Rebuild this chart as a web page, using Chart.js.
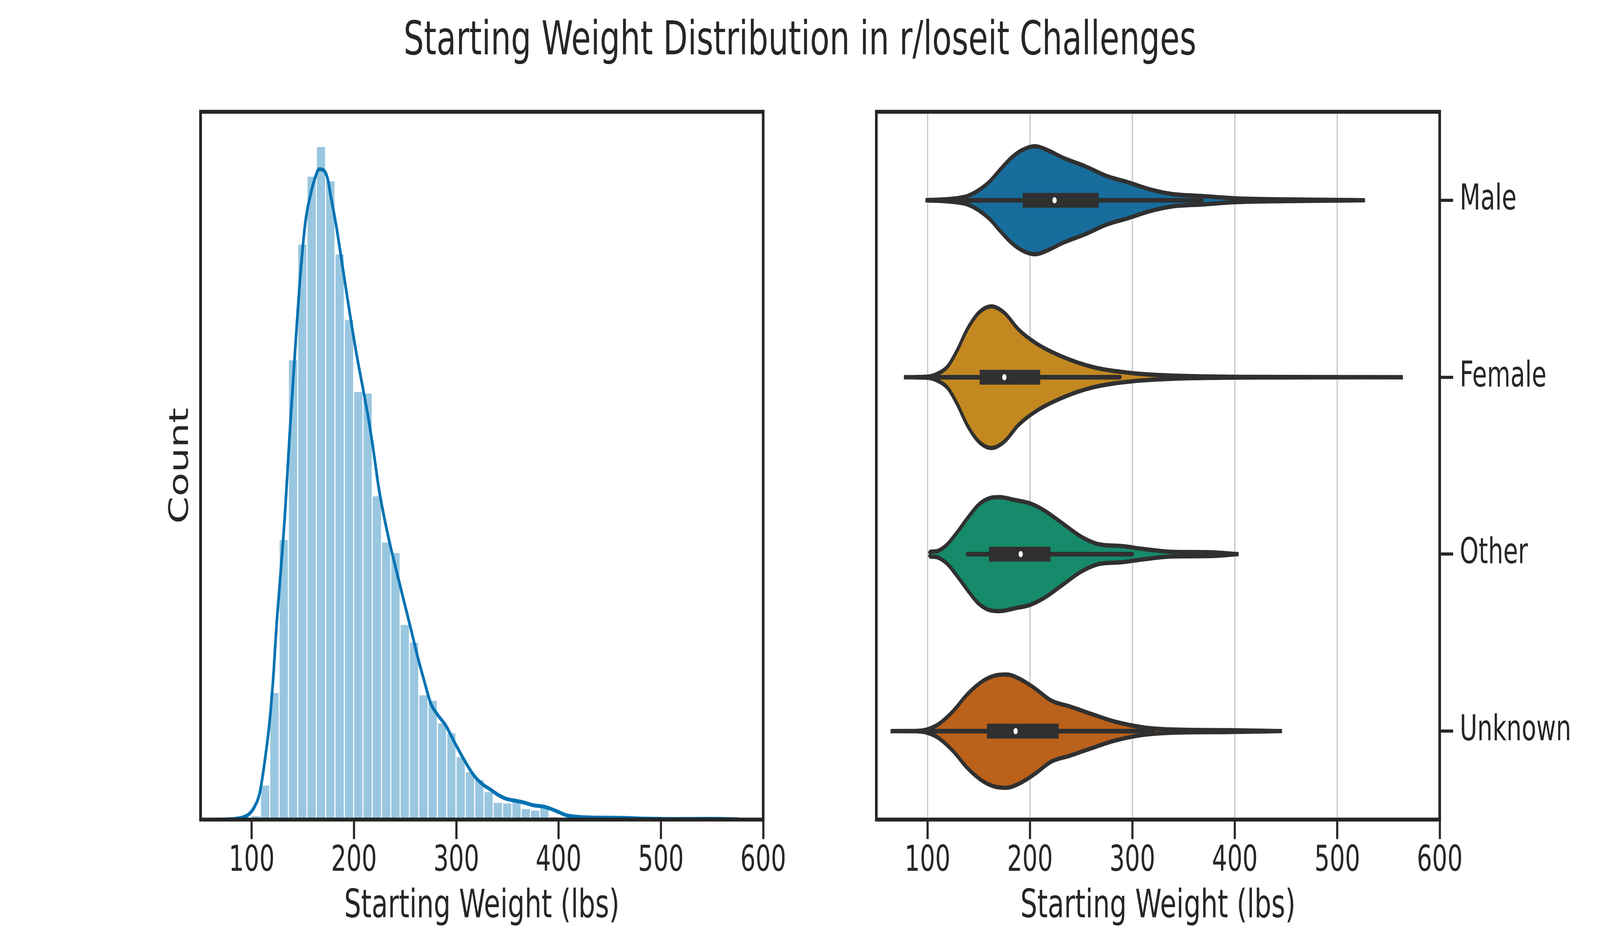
<!doctype html>
<html>

<head>
    <meta charset="utf-8">
    <title>Starting Weight Distribution</title>
    <script src="https://cdn.jsdelivr.net/npm/chart.js@4.4.1/dist/chart.umd.min.js"></script>
    <style>
        html, body {
            margin: 0;
            background: #fff;
            overflow: hidden;
        }

        #page {
            position: relative;
            width: 6000px;
            height: 2400px;
            font-family: "DejaVu Sans";
            color: #262626;
            transform-origin: 0 0;
        }

        #title {
            position: absolute;
            left: 0;
            top: 38px;
            width: 6000px;
            text-align: center;
            font-size: 120px;
            line-height: 120px;
        }

        canvas {
            position: absolute;
        }

        #hist-area {
            left: 500px;
            top: 200px;
        }

        #violin-area {
            left: 3100px;
            top: 200px;
        }
    </style>
</head>

<body>

<div id="page">
    <div id="title">Starting Weight Distribution in r/loseit Challenges</div>
    <canvas id="hist-area" width="2500" height="2200"></canvas>
    <canvas id="violin-area" width="2900" height="2200"></canvas>
</div>

<script>
    // x axis ticks, shared by both panels
    var tickValues = [100, 200, 300, 400, 500, 600];

    // histogram (50 bins), heights (no y scale shown)
    var binCenters = [104.05, 113.15, 122.25, 131.35, 140.45, 149.55, 158.65, 167.75, 176.85, 185.95,
        195.05, 204.15, 213.25, 222.35, 231.45, 240.55, 249.65, 258.75, 267.85, 276.95,
        286.05, 295.15, 304.25, 313.35, 322.45, 331.55, 340.65, 349.75, 358.85, 367.95,
        377.05, 386.15, 395.25, 404.35, 413.45, 422.55, 431.65, 440.75, 449.85, 458.95,
        468.05, 477.15, 486.25, 495.35, 504.45, 513.55, 522.65, 531.75, 540.85, 549.95];
    var binHeights = [1.1, 8.9, 32.6, 71.7, 117.7, 147.3, 164.7, 172.3, 163.5, 144.8,
        128.0, 109.6, 109.2, 82.9, 71.1, 68.4, 50.0, 45.5, 32.0, 30.6,
        24.8, 22.3, 16.2, 12.3, 10.3, 7.2, 4.5, 4.3, 4.9, 2.9,
        2.5, 3.7, 0.8, 0.3, 0.2, 0.3, 0.2, 0.1, 0.2, 0.1,
        0.1, 0.1, 0, 0.1, 0, 0, 0.1, 0, 0, 0.1];

    // kde curve over the histogram
    var kdeX = [66, 80, 92.9, 97.8, 102.8, 107.8, 112.8, 117.7, 121.0, 124.4, 127.2, 132.6, 136.8, 142.6,
        147.6, 152.5, 157.5, 162.5, 165.8, 169.9, 174.1, 177.4, 182.4, 189.0, 195.6, 202.2, 208.9,
        213.8, 218.8, 223.8, 228.7, 235.4, 242.0, 248.6, 255.3, 261.9, 268.5, 275.1, 281.8, 290.1,
        298.4, 308.3, 316.6, 324.9, 334.4, 341.7, 349.0, 358.2, 365.5, 374.6, 385.6, 392.9, 400.2,
        407.6, 418.5, 436.8, 464.3, 482.6, 510, 550, 575.7];
    var kdeY = [0, 0.1, 0.7, 1.5, 3.3, 6.8, 15.0, 25.6, 36.1, 50.1, 59.5, 78.5, 97.2, 120.7,
        139.4, 152.9, 159.9, 164.6, 166.4, 166.2, 164.1, 159.4, 152.3, 141.2, 130.0, 119.5, 110.1,
        103.1, 94.8, 85.5, 78.4, 70.2, 63.1, 56.1, 49.1, 42.0, 35.6, 29.7, 26.8, 23.9,
        19.7, 15.0, 11.5, 9.2, 7.5, 6.2, 5.3, 4.8, 4.4, 3.7, 3.3, 2.7, 1.9,
        1.1, 0.7, 0.5, 0.43, 0.24, 0.16, 0.2, 0.08];

    // violins: half widths in category units
    var categories = ['Male', 'Female', 'Other', 'Unknown'];

    var maleX = [98, 125, 139, 150, 161, 171, 182, 193, 205, 218, 232, 254, 275, 296, 318, 339, 368, 400, 446, 500, 527];
    var maleHalf = [0, 0.009, 0.024, 0.057, 0.108, 0.174, 0.241, 0.285, 0.305, 0.281, 0.241, 0.192, 0.137, 0.101, 0.060, 0.035, 0.024, 0.011, 0.005, 0.002, 0];

    var femaleX = [77, 100, 111, 120, 129, 139, 150, 162.5, 175, 189, 207, 232, 261, 300, 339, 411, 564];
    var femaleHalf = [0, 0.003, 0.023, 0.063, 0.152, 0.273, 0.364, 0.400, 0.364, 0.269, 0.188, 0.115, 0.058, 0.023, 0.009, 0.002, 0];

    var otherX = [101.8, 102.5, 107, 118, 128.6, 139, 150, 161, 170, 186, 200, 214, 232, 250, 268, 289, 311, 339, 375, 403.6];
    var otherHalf = [0, 0.013, 0.015, 0.048, 0.121, 0.203, 0.280, 0.317, 0.322, 0.305, 0.287, 0.247, 0.173, 0.099, 0.055, 0.046, 0.029, 0.013, 0.011, 0];

    var unknownX = [64, 89, 100, 111, 125, 139, 154, 166, 177, 189, 204, 221, 239, 261, 282, 311, 339, 393, 446];
    var unknownHalf = [0, 0.001, 0.010, 0.040, 0.113, 0.209, 0.283, 0.314, 0.320, 0.298, 0.245, 0.172, 0.139, 0.095, 0.055, 0.021, 0.009, 0.005, 0];

    var boxQ1 = [193, 151, 160, 158];
    var boxQ3 = [267, 210, 220, 228];
    var medians = [224, 175, 191, 186];
    var whiskerLo = [100, 90, 139, 90];
    var whiskerHi = [368, 288, 300, 321];

    Chart.defaults.font.family = '"DejaVu Sans"';
    Chart.defaults.color = '#262626';

    var ink = '#262626';
    var violinLine = '#303030';
    var violinFill = ['#176d9c', '#c38820', '#168a6a', '#ba611b'];

    // black frame round the plot area, like the matplotlib spines
    var framePlugin = {
        id: 'frame',
        afterDatasetsDraw: function(chart) {
            var a = chart.chartArea;
            var ctx = chart.ctx;
            ctx.save();
            ctx.strokeStyle = ink;
            ctx.lineWidth = 10;
            ctx.strokeRect(a.left, a.top, a.right - a.left, a.bottom - a.top);
            ctx.restore();
        }
    };

    var weightAxis = function(withGrid) {
        return {
            type: 'linear',
            min: 50,
            max: 600,
            offset: false,
            afterBuildTicks: function(scale) {
                scale.ticks = tickValues.map(function(v) { return {value: v}; });
            },
            afterFit: function(scale) {
                scale.height = 303;
            },
            border: {display: false},
            grid: {
                display: true,
                offset: false,
                drawOnChartArea: withGrid,
                color: '#cccccc',
                lineWidth: 5,
                drawTicks: true,
                tickLength: 50,
                tickColor: ink,
                tickWidth: 8
            },
            ticks: {
                font: {size: 90},
                color: ink,
                padding: 4,
                maxRotation: 0,
                autoSkip: false
            },
            title: {
                display: true,
                text: 'Starting Weight (lbs)',
                font: {size: 100},
                color: ink,
                padding: {top: 0, bottom: 19}
            }
        };
    };

    var toPoints = function(xs, ys) {
        return xs.map(function(x, i) { return {x: x, y: ys[i]}; });
    };

    var histConfig = {
        type: 'bar',
        data: {
            datasets: [{
                type: 'line',
                data: toPoints(kdeX, kdeY),
                borderColor: '#0072b2',
                borderWidth: 10,
                pointRadius: 0,
                cubicInterpolationMode: 'monotone',
                fill: false,
                order: 0
            }, {
                type: 'bar',
                data: toPoints(binCenters, binHeights),
                backgroundColor: 'rgba(0, 114, 178, 0.4)',
                borderColor: 'rgba(255, 255, 255, 0.55)',
                borderWidth: 2.3,
                barPercentage: 1,
                categoryPercentage: 1,
                order: 1
            }]
        },
        options: {
            responsive: false,
            animation: false,
            devicePixelRatio: 1,
            layout: {padding: {left: 0, right: 138, top: 86, bottom: 0}},
            plugins: {legend: {display: false}, tooltip: {enabled: false}},
            scales: {
                x: weightAxis(false),
                y: {
                    type: 'linear',
                    min: 0,
                    max: 181.1,
                    afterFit: function(scale) {
                        scale.width = 252;
                    },
                    border: {display: false},
                    grid: {display: false},
                    ticks: {display: false},
                    title: {
                        display: true,
                        text: 'Count',
                        font: {size: 100},
                        color: ink,
                        padding: {top: 119, bottom: 0}
                    }
                }
            }
        },
        plugins: [framePlugin]
    };

    var violinShapes = [
        {x: maleX, half: maleHalf},
        {x: femaleX, half: femaleHalf},
        {x: otherX, half: otherHalf},
        {x: unknownX, half: unknownHalf}
    ];

    var violinSets = [];
    violinShapes.forEach(function(v, i) {
        violinSets.push({
            data: v.x.map(function(x, k) { return {x: x, y: i - v.half[k]}; }),
            borderColor: violinLine,
            borderWidth: 11,
            backgroundColor: violinFill[i],
            fill: '+1',
            cubicInterpolationMode: 'monotone',
            order: 3
        });
        violinSets.push({
            data: v.x.map(function(x, k) { return {x: x, y: i + v.half[k]}; }),
            borderColor: violinLine,
            borderWidth: 11,
            fill: false,
            cubicInterpolationMode: 'monotone',
            order: 3
        });
    });
    categories.forEach(function(c, i) {
        violinSets.push({
            data: [{x: whiskerLo[i], y: i}, {x: whiskerHi[i], y: i}],
            borderColor: violinLine,
            borderWidth: 12,
            borderCapStyle: 'round',
            fill: false,
            order: 2
        });
        violinSets.push({
            data: [{x: boxQ1[i], y: i}, {x: boxQ3[i], y: i}],
            borderColor: violinLine,
            borderWidth: 38,
            borderCapStyle: 'butt',
            fill: false,
            order: 1
        });
        violinSets.push({
            data: [{x: medians[i], y: i}],
            showLine: false,
            pointRadius: 8,
            pointBackgroundColor: '#ffffff',
            pointBorderColor: '#ffffff',
            pointBorderWidth: 0,
            fill: false,
            order: 0
        });
    });

    var violinConfig = {
        type: 'line',
        data: {datasets: violinSets},
        options: {
            responsive: false,
            animation: false,
            devicePixelRatio: 1,
            layout: {padding: {left: 186, right: 0, top: 86, bottom: 0}},
            elements: {point: {radius: 0}},
            plugins: {
                legend: {display: false},
                tooltip: {enabled: false},
                filler: {drawTime: 'beforeDatasetsDraw'}
            },
            scales: {
                x: weightAxis(true),
                y: {
                    type: 'linear',
                    position: 'right',
                    min: -0.5,
                    max: 3.5,
                    reverse: true,
                    afterBuildTicks: function(scale) {
                        scale.ticks = categories.map(function(c, i) { return {value: i}; });
                    },
                    afterFit: function(scale) {
                        scale.width = 601;
                    },
                    border: {display: false},
                    grid: {
                        display: true,
                        drawOnChartArea: false,
                        drawTicks: true,
                        tickLength: 50,
                        tickColor: ink,
                        tickWidth: 8
                    },
                    ticks: {
                        font: {size: 90},
                        color: ink,
                        padding: 25,
                        autoSkip: false,
                        callback: function(value) {
                            return categories[value];
                        }
                    }
                }
            }
        },
        plugins: [framePlugin]
    };

    window.onload = function() {
        // the sheet is laid out at 6000x2400; stretch it onto whatever viewport we really get
        var sx = window.innerWidth / 6000;
        var sy = window.innerHeight / 2400;
        if (sx !== 1 || sy !== 1) {
            document.getElementById('page').style.transform = 'scale(' + sx + ', ' + sy + ')';
        }

        window.histChart = new Chart(document.getElementById('hist-area').getContext('2d'), histConfig);
        window.violinChart = new Chart(document.getElementById('violin-area').getContext('2d'), violinConfig);
    };
</script>
</body>

</html>
